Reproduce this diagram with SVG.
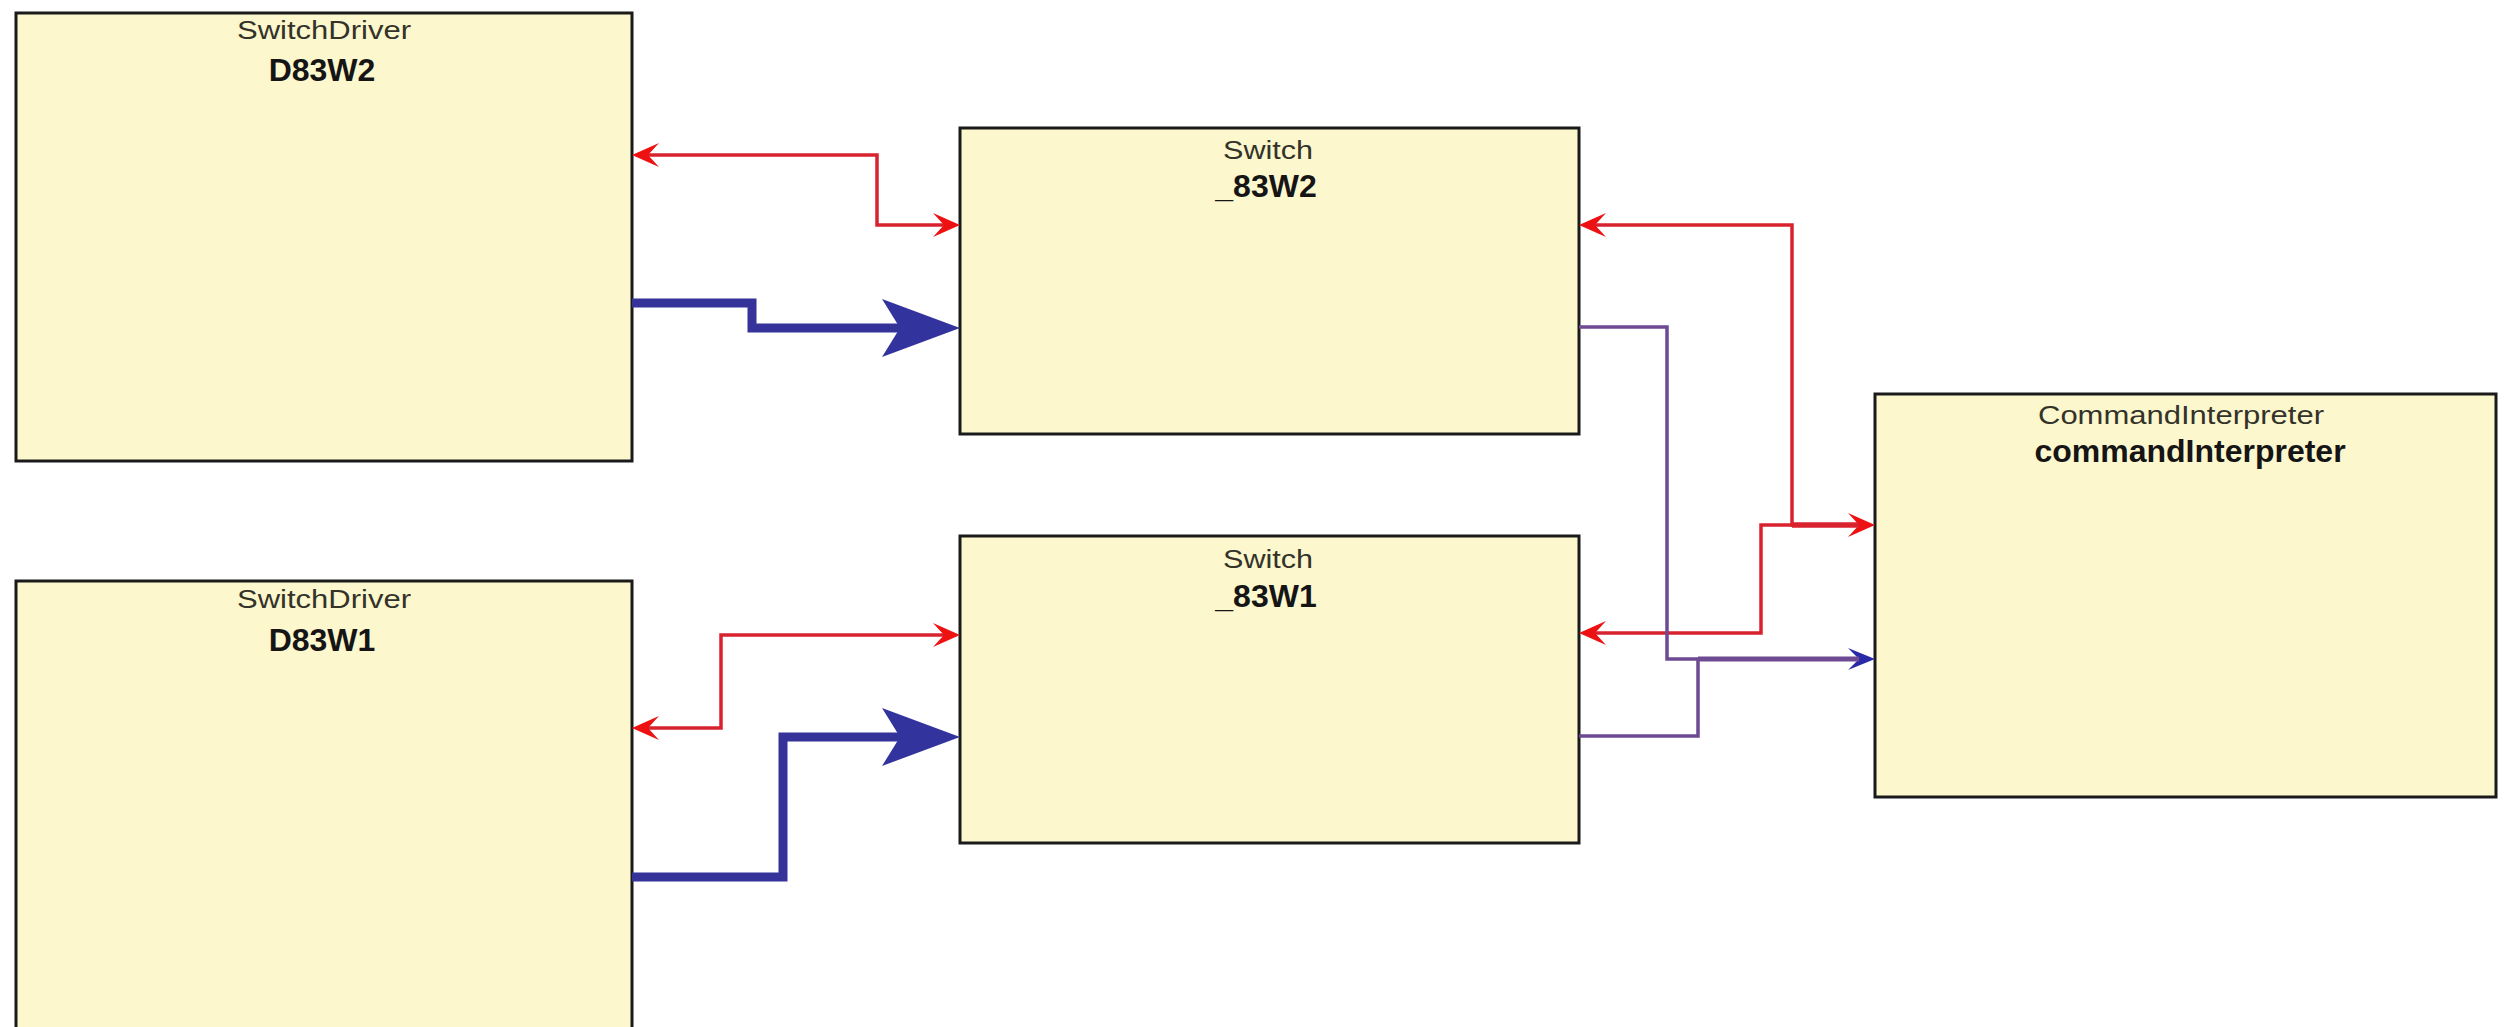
<svg xmlns="http://www.w3.org/2000/svg" width="2509" height="1027" viewBox="0 0 2509 1027">
<style>
.box{fill:#fdf7cd;stroke:#1a1a1a;stroke-width:3}
.t1{font-family:"Liberation Sans",Arial,sans-serif;font-size:26px;fill:#33332a;text-anchor:middle}
.t2{font-family:"Liberation Sans",Arial,sans-serif;font-size:32px;font-weight:bold;fill:#151515;text-anchor:middle}
.red{fill:none;stroke:#d8232f;stroke-width:3.5}
.blue{fill:none;stroke:#35339a;stroke-width:9}
.pur{fill:none;stroke:#6e4a92;stroke-width:3.5}
</style>
<defs>
<marker id="ar" markerUnits="userSpaceOnUse" orient="auto-start-reverse" viewBox="-30 -15 32 30" refX="-16" refY="0" markerWidth="32" markerHeight="30">
<path d="M0,0 L-27,-12 L-16,0 L-27,12 Z" fill="#ee1111"/>
</marker>
<marker id="ab" markerUnits="userSpaceOnUse" orient="auto" viewBox="-30 -15 32 30" refX="-16" refY="0" markerWidth="32" markerHeight="30">
<path d="M0,0 L-27,-11 L-16,0 L-27,11 Z" fill="#2a2aa8"/>
</marker>
<marker id="big" markerUnits="userSpaceOnUse" orient="auto" viewBox="-82 -32 84 64" refX="-60" refY="0" markerWidth="84" markerHeight="64">
<path d="M0,0 L-78,-29 L-60,0 L-78,29 Z" fill="#33339e"/>
</marker>
</defs>

<g id="D83W2">
<rect class="box" x="16" y="13" width="616" height="448"/>
<text class="t1" x="324" y="39" textLength="174" lengthAdjust="spacingAndGlyphs">SwitchDriver</text>
<text class="t2" x="322" y="81">D83W2</text>
</g>
<g id="D83W1">
<rect class="box" x="16" y="581" width="616" height="460"/>
<text class="t1" x="324" y="608" textLength="174" lengthAdjust="spacingAndGlyphs">SwitchDriver</text>
<text class="t2" x="322" y="651">D83W1</text>
</g>
<g id="s83W2">
<rect class="box" x="960" y="128" width="619" height="306"/>
<text class="t1" x="1268" y="159" textLength="90" lengthAdjust="spacingAndGlyphs">Switch</text>
<text class="t2" x="1266" y="197">_83W2</text>
</g>
<g id="s83W1">
<rect class="box" x="960" y="536" width="619" height="307"/>
<text class="t1" x="1268" y="568" textLength="90" lengthAdjust="spacingAndGlyphs">Switch</text>
<text class="t2" x="1266" y="607">_83W1</text>
</g>
<g id="commandInterpreter">
<rect class="box" x="1875" y="394" width="621" height="403"/>
<text class="t1" x="2181" y="424" textLength="286" lengthAdjust="spacingAndGlyphs">CommandInterpreter</text>
<text class="t2" x="2190" y="462">commandInterpreter</text>
</g>

<g id="connectors">
<path class="red" d="M648,155 H877 V225 H944" marker-start="url(#ar)" marker-end="url(#ar)"/>
<path class="red" d="M648,728 H721 V635 H944" marker-start="url(#ar)" marker-end="url(#ar)"/>
<path class="blue" d="M632,303 H752 V328 H900" marker-end="url(#big)"/>
<path class="blue" d="M632,877 H783 V737 H900" marker-end="url(#big)"/>
<path class="red" d="M1595,225 H1792 V525 H1859" marker-start="url(#ar)" marker-end="url(#ar)"/>
<path class="red" d="M1595,633 H1761 V525 H1859" marker-start="url(#ar)"/>
<path class="red" d="M1792,525 H1859" style="stroke-width:5.5"/>
<path class="pur" d="M1579,327 H1667 V659 H1859" marker-end="url(#ab)"/>
<path class="pur" d="M1579,736 H1698 V659"/>
<path class="pur" d="M1698,659 H1859" style="stroke-width:5"/>
</g>
</svg>
